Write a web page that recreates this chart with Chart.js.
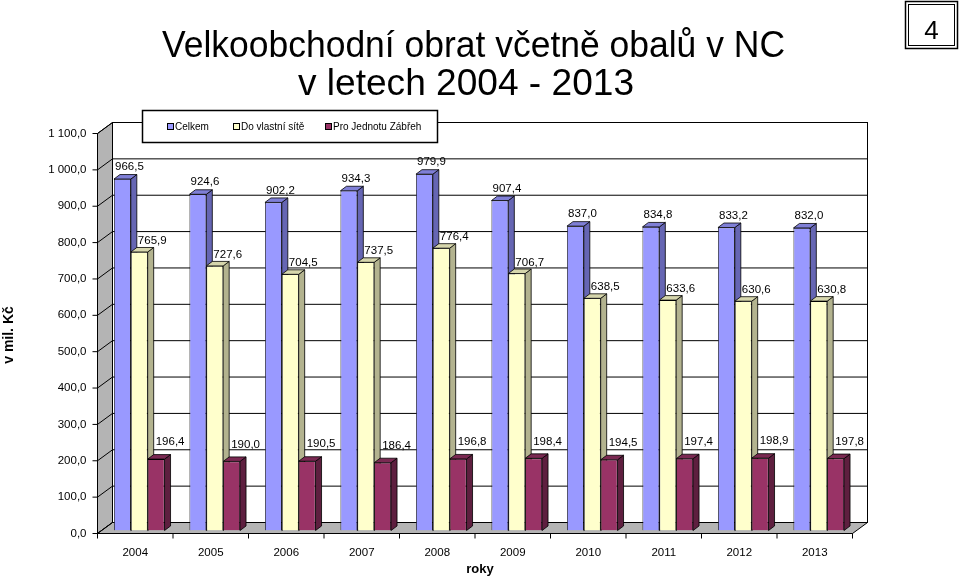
<!DOCTYPE html>
<html>
<head>
<meta charset="utf-8">
<script src="https://cdn.jsdelivr.net/npm/chart.js@4"></script>
<style>
  html, body { margin: 0; padding: 0; background: #fff; }
  #wrap { width: 960px; height: 577px; }
</style>
</head>
<body>
<div id="wrap"><canvas id="chart" width="960" height="577"></canvas></div>
<script>
// data
const years = ['2004', '2005', '2006', '2007', '2008', '2009', '2010', '2011', '2012', '2013'];
const celkem = [966.5, 924.6, 902.2, 934.3, 979.9, 907.4, 837.0, 834.8, 833.2, 832.0];
const vlastniSit = [765.9, 727.6, 704.5, 737.5, 776.4, 706.7, 638.5, 633.6, 630.6, 630.8];
const jednotaZabreh = [196.4, 190.0, 190.5, 186.4, 196.8, 198.4, 194.5, 197.4, 198.9, 197.8];
const yTicks = [0, 100, 200, 300, 400, 500, 600, 700, 800, 900, 1000, 1100];
const seriesNames = ['Celkem', 'Do vlastní sítě', 'Pro Jednotu Zábřeh'];

// barvy: přední, bok, vršek
const faces = [
    { front: '#9999FF', side: '#6666B3', top: '#7F7FD6' },
    { front: '#FFFFCC', side: '#B3B38F', top: '#D6D6AC' },
    { front: '#993366', side: '#5E1F3F', top: '#7A2952' }
];
// posun popisků vůči vršku sloupce
const labelShift = [[7, -12], [13, -11], [14, -17]];

const FONT = '"Liberation Sans", Arial, sans-serif';
const DX = 6, DY = -4.5;          // hloubka sloupce
const FX = -4, FY = 3;            // přední rovina os
const BX = 11, BY = -8;           // zadní stěna

function fmt(v) {
    let s = v.toFixed(1).replace('.', ',');
    if (v >= 1000) s = s.slice(0, s.length - 5) + ' ' + s.slice(s.length - 5);
    return s;
}

function poly(ctx, pts, fill) {
    ctx.beginPath();
    ctx.moveTo(pts[0][0], pts[0][1]);
    for (let i = 1; i < pts.length; i++) ctx.lineTo(pts[i][0], pts[i][1]);
    ctx.closePath();
    if (fill) { ctx.fillStyle = fill; ctx.fill(); }
    ctx.stroke();
}

function line(ctx, x1, y1, x2, y2) {
    ctx.beginPath();
    ctx.moveTo(x1, y1);
    ctx.lineTo(x2, y2);
    ctx.stroke();
}

const scene3d = {
    id: 'scene3d',
    beforeDatasetsDraw(chart) {
        const ctx = chart.ctx;
        const a = chart.chartArea;
        const y = chart.scales.y;
        const y0 = y.getPixelForValue(0), yTop = y.getPixelForValue(1100);
        ctx.save();
        ctx.strokeStyle = '#000';
        ctx.lineWidth = 1;
        // boční stěna
        poly(ctx, [[a.left + FX, y0 + FY], [a.left + BX, y0 + BY], [a.left + BX, yTop + BY], [a.left + FX, yTop + FY]], '#B4B4B4');
        // podlaha
        poly(ctx, [[a.left + FX, y0 + FY], [a.right + FX, y0 + FY], [a.right + BX, y0 + BY], [a.left + BX, y0 + BY]], '#B4B4B4');
        // zadní stěna
        ctx.fillStyle = '#fff';
        ctx.fillRect(a.left + BX, yTop + BY, a.right - a.left, y0 - yTop);
        ctx.strokeRect(a.left + BX, yTop + BY, a.right - a.left, y0 - yTop);
        // mřížka
        yTicks.forEach(t => {
            const py = y.getPixelForValue(t);
            line(ctx, a.left + FX, py + FY, a.left + BX, py + BY);
            line(ctx, a.left + BX, py + BY, a.right + BX, py + BY);
        });
        // boky a vršky sloupců
        ctx.lineWidth = 0.8;
        for (let d = 0; d < 3; d++) {
            const meta = chart.getDatasetMeta(d);
            meta.data.forEach(bar => {
                const l = bar.x - bar.width / 2, r = bar.x + bar.width / 2;
                const t = bar.y, b = bar.base;
                poly(ctx, [[r, t], [r + DX, t + DY], [r + DX, b + DY], [r, b]], faces[d].side);
                poly(ctx, [[l, t], [l + DX, t + DY], [r + DX, t + DY], [r, t]], faces[d].top);
            });
        }
        ctx.restore();
    },
    afterDraw(chart) {
        const ctx = chart.ctx;
        const a = chart.chartArea;
        const x = chart.scales.x, y = chart.scales.y;
        const y0 = y.getPixelForValue(0);
        ctx.save();
        ctx.strokeStyle = '#000';
        ctx.lineWidth = 1;
        // osa y
        line(ctx, a.left + FX, y.getPixelForValue(1100) + FY, a.left + FX, y0 + FY);
        ctx.fillStyle = '#000';
        ctx.font = '11.5px ' + FONT;
        ctx.textAlign = 'right';
        ctx.textBaseline = 'middle';
        yTicks.forEach(t => {
            const py = y.getPixelForValue(t) + FY;
            line(ctx, a.left + FX - 5, py, a.left + FX, py);
            ctx.fillText(fmt(t), a.left + FX - 11, py);
        });
        // osa x
        line(ctx, a.left + FX, y0 + FY, a.right + FX, y0 + FY);
        const step = x.getPixelForValue(1) - x.getPixelForValue(0);
        ctx.textAlign = 'center';
        years.forEach((yr, i) => {
            const cx = x.getPixelForValue(i) + FX;
            line(ctx, cx - step / 2, y0 + FY, cx - step / 2, y0 + FY + 5);
            if (i === years.length - 1) line(ctx, cx + step / 2, y0 + FY, cx + step / 2, y0 + FY + 5);
            ctx.fillText(yr, cx, y0 + FY + 19);
        });
        // popisky hodnot
        for (let d = 0; d < 3; d++) {
            const meta = chart.getDatasetMeta(d);
            const vals = chart.data.datasets[d].data;
            meta.data.forEach((bar, i) => {
                ctx.fillText(fmt(vals[i]), bar.x + labelShift[d][0], bar.y + labelShift[d][1]);
            });
        }
        // názvy os
        ctx.font = 'bold 13px ' + FONT;
        ctx.fillText('roky', 480, 569);
        ctx.save();
        ctx.translate(9, 335);
        ctx.rotate(-Math.PI / 2);
        ctx.font = 'bold 14px ' + FONT;
        ctx.fillText('v mil. Kč', 0, 0);
        ctx.restore();
        // legenda
        ctx.fillStyle = '#fff';
        ctx.lineWidth = 1.5;
        ctx.fillRect(142.5, 110.5, 295, 32);
        ctx.strokeRect(142.5, 110.5, 295, 32);
        ctx.lineWidth = 1;
        ctx.font = '10px ' + FONT;
        ctx.textAlign = 'left';
        const legX = [167, 233, 325];
        seriesNames.forEach((n, d) => {
            ctx.fillStyle = faces[d].front;
            ctx.fillRect(legX[d] + 0.5, 123.5, 6, 6);
            ctx.strokeRect(legX[d] + 0.5, 123.5, 6, 6);
            ctx.fillStyle = '#000';
            ctx.fillText(n, legX[d] + 8, 127);
        });
        // nadpis
        ctx.font = '36px ' + FONT;
        ctx.textBaseline = 'alphabetic';
        ctx.textAlign = 'center';
        [['Velkoobchodní obrat včetně obalů v NC', 473.5, 57, 623], ['v letech 2004 - 2013', 466, 95, 336]].forEach(([txt, cx, by, w]) => {
            const m = ctx.measureText(txt).width;
            ctx.save();
            ctx.translate(cx, by);
            ctx.scale(w / m, 1);
            ctx.fillText(txt, 0, 0);
            ctx.restore();
        });
        // rámeček s číslem
        ctx.lineWidth = 1.5;
        ctx.strokeRect(905.5, 1.5, 52, 47);
        ctx.lineWidth = 1;
        ctx.strokeRect(908.5, 4.5, 46, 41);
        ctx.font = '26px ' + FONT;
        ctx.fillText('4', 931.5, 39);
        ctx.restore();
    }
};

new Chart(document.getElementById('chart'), {
    type: 'bar',
    data: {
        labels: years,
        datasets: [celkem, vlastniSit, jednotaZabreh].map((vals, d) => ({
            label: seriesNames[d],
            data: vals,
            backgroundColor: faces[d].front,
            borderColor: '#000',
            borderWidth: 0.8,
            categoryPercentage: 0.67,
            barPercentage: 1
        }))
    },
    options: {
        responsive: false,
        animation: false,
        layout: { padding: { left: 101.5, right: 103.5, top: 130.5, bottom: 46.5 } },
        scales: {
            x: { display: false },
            y: { display: false, min: 0, max: 1100 }
        },
        plugins: {
            legend: { display: false },
            tooltip: { enabled: false }
        }
    },
    plugins: [scene3d]
});
</script>
</body>
</html>
